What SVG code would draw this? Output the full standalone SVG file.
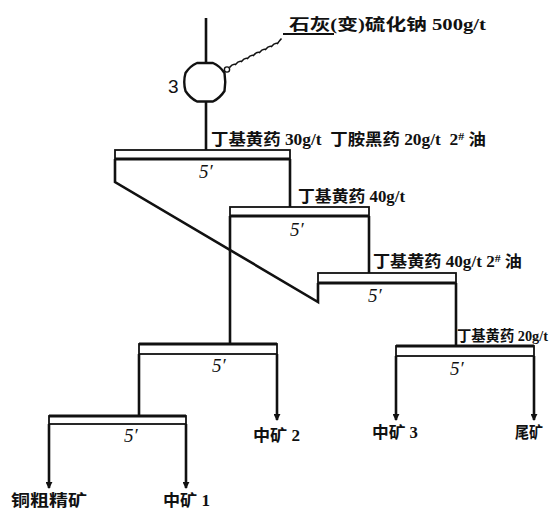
<svg xmlns="http://www.w3.org/2000/svg" width="551" height="513" viewBox="0 0 551 513">
<style>
.ln{fill:none;stroke:#111;stroke-width:2.6;stroke-linecap:butt}
.thin{fill:none;stroke:#111;stroke-width:1.6}
.bar{fill:#fff;stroke:#111;stroke-width:1.8}
.barb{stroke:#111;stroke-width:3}
.t{font-family:"Liberation Serif","Noto Sans CJK SC",serif;font-weight:bold;font-size:16px;fill:#111;white-space:pre}
.n{font-family:"Liberation Serif",serif;font-style:italic;font-size:19px;fill:#111}
.lab{font-family:"Liberation Sans",sans-serif;font-size:19px;fill:#111}
</style>
<defs>
<marker id="ah" viewBox="0 0 8 8" refX="7" refY="4" markerWidth="7" markerHeight="7" markerUnits="userSpaceOnUse" orient="auto">
<path d="M0,0 L8,4 L0,8 Z" fill="#111"/>
</marker>
</defs>
<rect width="551" height="513" fill="#fff"/>
<g id="connectors">
<path class="ln" d="M206,18 V63"/>
<path class="ln" d="M206,101 V150"/>
<path class="ln" d="M115,159 V182 L318,302 V283"/>
<path class="ln" d="M290,159 V207"/>
<path class="ln" d="M230,216 V344"/>
<path class="ln" d="M369,216 V273"/>
<path class="ln" d="M456,283 V346"/>
<path class="ln" d="M139,354 V416"/>
<path class="ln" d="M277,354 V420" marker-end="url(#ah)"/>
<path class="ln" d="M396,356 V420" marker-end="url(#ah)"/>
<path class="ln" d="M534,356 V420" marker-end="url(#ah)"/>
<path class="ln" d="M49,424 V488" marker-end="url(#ah)"/>
<path class="ln" d="M186,424 V488" marker-end="url(#ah)"/>
<path class="thin" d="M229.5,67.5 q3,-4 6,-3 q3,-4 6,-3 q3,-4 6,-3 q3,-4 6,-3 q3,-4 6,-3 q3,-4 6,-3 q3,-4 6,-3 q3,-4 6,-3 q3,-4 4,-5"/>
<path class="ln" d="M283,34 H334" style="stroke-width:2"/>
<circle cx="227" cy="69.5" r="2.6" fill="#fff" stroke="#111" stroke-width="1.4"/>
</g>
<g id="conditioner">
<path d="M197,63 H213 Q220,66 224.5,73 Q226,82 224.5,91 Q220,98 213,101.5 H197 Q190,98 185.5,91 Q183,82 185.5,73 Q190,66 197,63 Z" fill="#fff" stroke="#111" stroke-width="2.4" stroke-linejoin="round"/>
<text class="lab" x="168" y="93">3</text>
<text class="t" x="289" y="30" textLength="197" lengthAdjust="spacingAndGlyphs">石灰(变)硫化钠 500g/t</text>
</g>
<g id="cell1">
<rect class="bar" x="115" y="150" width="175" height="9"/>
<line class="barb" x1="115" y1="159" x2="290" y2="159"/>
<text class="n" x="199" y="178">5′</text>
<text class="t" x="211" y="145" textLength="275" lengthAdjust="spacingAndGlyphs">丁基黄药 30g/t  丁胺黑药 20g/t  2<tspan font-size="11" dy="-5">#</tspan><tspan dy="5"> 油</tspan></text>
</g>
<g id="cell2">
<rect class="bar" x="230" y="207" width="139" height="9"/>
<line class="barb" x1="230" y1="216" x2="369" y2="216"/>
<text class="n" x="290" y="236">5′</text>
<text class="t" x="298" y="202" textLength="107" lengthAdjust="spacingAndGlyphs">丁基黄药 40g/t</text>
</g>
<g id="cell3">
<rect class="bar" x="318" y="273" width="138" height="10"/>
<line class="barb" x1="318" y1="283" x2="456" y2="283"/>
<text class="n" x="368" y="302">5′</text>
<text class="t" x="373" y="267" textLength="149" lengthAdjust="spacingAndGlyphs">丁基黄药 40g/t 2<tspan font-size="11" dy="-5">#</tspan><tspan dy="5"> 油</tspan></text>
</g>
<g id="cell4">
<rect class="bar" x="139" y="344" width="138" height="10"/>
<line class="barb" x1="139" y1="344" x2="277" y2="344"/>
<text class="n" x="212" y="372">5′</text>
<text class="t" x="253" y="441" textLength="47" lengthAdjust="spacingAndGlyphs">中矿 2</text>
</g>
<g id="cell5">
<rect class="bar" x="396" y="346" width="138" height="10"/>
<line class="barb" x1="396" y1="346" x2="534" y2="346"/>
<text class="n" x="450" y="375">5′</text>
<text class="t" x="457" y="341" style="font-size:14.5px" textLength="91" lengthAdjust="spacingAndGlyphs">丁基黄药 20g/t</text>
<text class="t" x="372" y="438" textLength="46" lengthAdjust="spacingAndGlyphs">中矿 3</text>
<text class="t" x="515" y="438" textLength="28" lengthAdjust="spacingAndGlyphs">尾矿</text>
</g>
<g id="cell6">
<rect class="bar" x="49" y="416" width="137" height="8"/>
<line class="barb" x1="49" y1="416" x2="186" y2="416"/>
<text class="n" x="124" y="442">5′</text>
<text class="t" x="11" y="506" textLength="76" lengthAdjust="spacingAndGlyphs">铜粗精矿</text>
<text class="t" x="163" y="506" textLength="47" lengthAdjust="spacingAndGlyphs">中矿 1</text>
</g>
</svg>
